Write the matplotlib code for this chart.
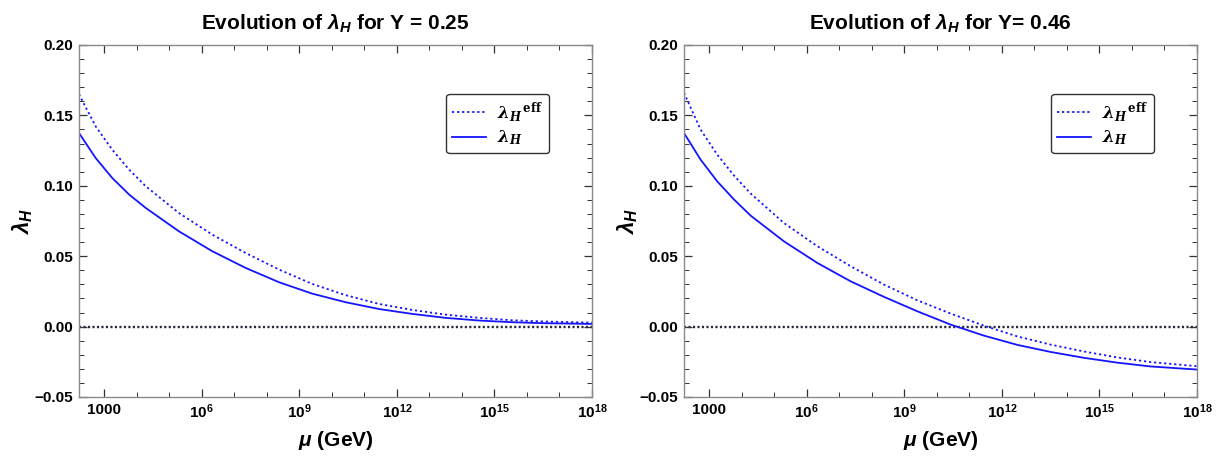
import numpy as np
import matplotlib
matplotlib.use("Agg")
import matplotlib.pyplot as plt
from matplotlib.font_manager import FontProperties
from matplotlib.ticker import FixedLocator, NullFormatter

# ---------------- data (log10 of mu in GeV) ----------------
logmu = [2.23, 2.74, 3.25, 3.77, 4.28, 5.30, 6.33, 7.35, 8.38, 9.40,
         10.43, 11.45, 12.48, 13.50, 14.53, 15.55, 16.57, 18.0]

left_lam = [0.1375, 0.1198, 0.1056, 0.0938, 0.0843, 0.0677, 0.0535, 0.0417, 0.0315, 0.0234,
            0.0173, 0.0125, 0.0090, 0.0062, 0.0043, 0.0031, 0.0024, 0.0019]
left_lam_eff = [0.1650, 0.1423, 0.1257, 0.1115, 0.0997, 0.0807, 0.0653, 0.0523, 0.0405, 0.0303,
                0.0223, 0.0161, 0.0118, 0.0085, 0.0062, 0.0045, 0.0036, 0.0028]

right_lam = [0.1375, 0.1186, 0.1032, 0.0902, 0.0788, 0.0606, 0.0452, 0.0322, 0.0211, 0.0109,
             0.0014, -0.0064, -0.0130, -0.0180, -0.0222, -0.0256, -0.0283, -0.0305]
right_lam_eff = [0.1660, 0.1399, 0.1222, 0.1072, 0.0945, 0.0736, 0.0571, 0.0429, 0.0298, 0.0187,
                 0.0092, 0.0007, -0.0070, -0.0128, -0.0177, -0.0219, -0.0252, -0.0281]

titles = [r"Evolution of $\mathbfit{\lambda}_{\mathbfit{H}}$ for Y = 0.25",
          r"Evolution of $\mathbfit{\lambda}_{\mathbfit{H}}$ for Y= 0.46"]
xtick_exps = [3, 6, 9, 12, 15, 18]
xtick_labels = ["1000", r"$\mathbf{10^{6}}$", r"$\mathbf{10^{9}}$", r"$\mathbf{10^{12}}$",
                r"$\mathbf{10^{15}}$", r"$\mathbf{10^{18}}$"]
yticks = [-0.05, 0.0, 0.05, 0.10, 0.15, 0.20]
ytick_labels = ["\u22120.05", "0.00", "0.05", "0.10", "0.15", "0.20"]
legend_labels = [r"${\mathbfit{\lambda}_{\mathbfit{H}}}^{\,\mathbf{eff}}$", r"$\mathbfit{\lambda}_{\mathbfit{H}}$"]
xlabel = r"$\mathbfit{\mu}$ (GeV)"
ylabel = r"$\mathbfit{\lambda}_{\mathbfit{H}}$"

# ---------------- style ----------------
fam = ["Liberation Sans Narrow", "Liberation Sans", "DejaVu Sans"]
plt.rcParams["font.family"] = fam
plt.rcParams["mathtext.fontset"] = "custom"
plt.rcParams["mathtext.rm"] = "Liberation Sans"
plt.rcParams["mathtext.it"] = "Liberation Sans:italic"
plt.rcParams["mathtext.bf"] = "Liberation Sans:bold"
plt.rcParams["mathtext.bfit"] = "Liberation Sans:bold:italic"

blue = "#1414ff"
zero_col = "#26263a"
frame_col = "#8a8a8a"

fig = plt.figure(figsize=(12.24, 4.59), dpi=100)
ax_rects = [[79/1224, 1-397/459, 513/1224, 352/459],
            [684/1224, 1-397/459, 513/1224, 352/459]]

datasets = [(left_lam, left_lam_eff), (right_lam, right_lam_eff)]
leg_x = [0.70, 0.70]

for i, (rect, (lam, lame)) in enumerate(zip(ax_rects, datasets)):
    ax = fig.add_axes(rect)
    mu = 10.0 ** np.array(logmu)
    l1, = ax.plot(mu, lame, color=blue, lw=1.3, ls=(0, (1.2, 1.6)), label=legend_labels[0])
    l2, = ax.plot(mu, lam, color=blue, lw=1.3, ls="-", label=legend_labels[1])
    ax.axhline(0.0, color=zero_col, lw=1.7, ls=(0, (0.9, 1.0)), zorder=1)
    ax.set_xscale("log")
    ax.set_xlim(10 ** 2.23, 1e18)
    ax.set_ylim(-0.05, 0.20)

    ax.xaxis.set_major_locator(FixedLocator([10.0 ** e for e in xtick_exps]))
    ax.set_xticklabels(xtick_labels, fontweight="bold", fontsize=11)
    minor = [10.0 ** e for e in range(3, 19) if e % 3 != 0]
    ax.xaxis.set_minor_locator(FixedLocator(minor))
    ax.xaxis.set_minor_formatter(NullFormatter())

    ax.yaxis.set_major_locator(FixedLocator(yticks))
    ax.set_yticklabels(ytick_labels, fontweight="bold", fontsize=11)
    ax.yaxis.set_minor_locator(FixedLocator(np.round(np.arange(-0.05, 0.2001, 0.01), 3)))

    ax.tick_params(which="both", direction="in", top=True, right=True, color="#333333")
    ax.tick_params(which="major", length=6, width=0.9, pad=4)
    ax.tick_params(which="minor", length=3.5, width=0.7)
    for s in ax.spines.values():
        s.set_color(frame_col)
        s.set_linewidth(1.0)

    ax.set_title(titles[i], fontsize=15, fontweight="bold", pad=11)
    ax.set_xlabel(xlabel, fontsize=15, fontweight="bold", labelpad=6)
    ax.set_ylabel(ylabel, fontsize=16, labelpad=0)

    leg = ax.legend(handles=[l1, l2], loc="upper left", bbox_to_anchor=(leg_x[i], 0.885),
                    prop=FontProperties(family="DejaVu Serif", weight="bold", size=12,
                                        math_fontfamily="dejavuserif"),
                    frameon=True, fancybox=True, handlelength=2.0, handletextpad=0.7,
                    borderpad=0.35, labelspacing=0.3)
    leg.get_frame().set_edgecolor("#333333")
    leg.get_frame().set_linewidth(1.0)
    leg.get_frame().set_alpha(1.0)

fig.savefig("out.png", dpi=100)
